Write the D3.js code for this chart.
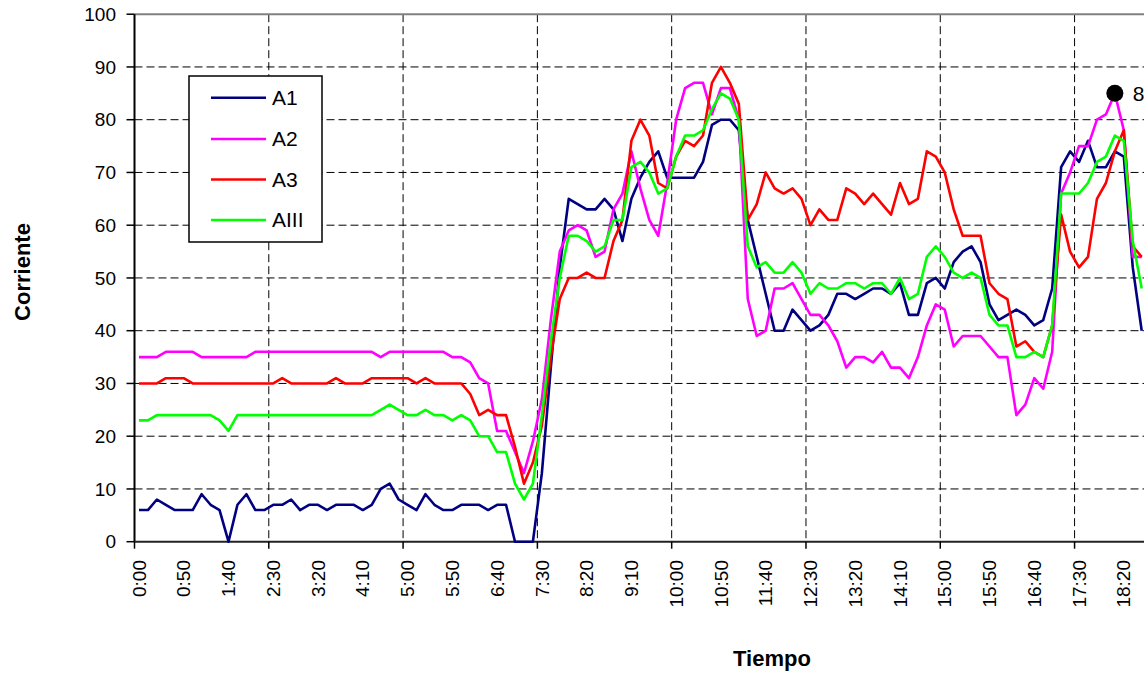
<!DOCTYPE html>
<html>
<head>
<meta charset="utf-8">
<script src="https://cdn.jsdelivr.net/npm/d3@7"></script>
<style>
  html, body { margin: 0; padding: 0; background: #fff; }
  svg { display: block; }
  text { font-family: "Liberation Sans", Arial, sans-serif; fill: #000; }
</style>
</head>
<body>
<svg id="chart" width="1144" height="677"></svg>
<script>
// ---- data (10-minute samples from 0:00) ----
const seriesNames = ["A1", "A2", "A3", "AIII"];
const seriesColors = ["#000080", "#FF00FF", "#FF0000", "#00FF00"];

const A1 = [6,6,8,7,6,6,6,9,7,6, 0,7,9,6,6,7,7,8,6,7, 7,6,7,7,7,6,7,10,11,8,
  7,6,9,7,6,6,7,7,7,6, 7,7,0,0,0,13,33,52,65,64, 63,63,65,63,57,65,69,72,74,69,
  69,69,69,72,79,80,80,78,61,54, 47,40,40,44,42,40,41,43,47,47, 46,47,48,48,47,49,43,43,49,50,
  48,53,55,56,53,45,42,43,44,43, 41,42,48,71,74,72,76,71,71,74, 73,52,40];
const A2 = [35,35,35,36,36,36,36,35,35,35, 35,35,35,36,36,36,36,36,36,36, 36,36,36,36,36,36,36,35,36,36,
  36,36,36,36,36,35,35,34,31,30, 21,21,17,13,19,27,42,55,59,60, 59,54,55,63,66,74,67,61,58,68,
  80,86,87,87,81,86,86,80,46,39, 40,48,48,49,46,43,43,41,38,33, 35,35,34,36,33,33,31,35,41,45,
  44,37,39,39,39,37,35,35,24,26, 31,29,36,66,70,75,75,80,81,85, 78,54,54];
const A3 = [30,30,30,31,31,31,30,30,30,30, 30,30,30,30,30,30,31,30,30,30, 30,30,31,30,30,30,31,31,31,31,
  31,30,31,30,30,30,30,28,24,25, 24,24,18,11,15,22,35,46,50,50, 51,50,50,57,61,76,80,77,68,67,
  73,76,75,77,87,90,87,83,61,64, 70,67,66,67,65,60,63,61,61,67, 66,64,66,64,62,68,64,65,74,73,
  70,63,58,58,58,49,47,46,37,38, 36,35,41,62,55,52,54,65,68,74, 78,56,54];
const AIII = [23,23,24,24,24,24,24,24,24,23, 21,24,24,24,24,24,24,24,24,24, 24,24,24,24,24,24,24,25,26,25,
  24,24,25,24,24,23,24,23,20,20, 17,17,11,8,11,24,38,50,58,58, 57,55,56,61,61,71,72,70,66,67,
  73,77,77,78,82,85,84,80,56,52, 53,51,51,53,51,47,49,48,48,49, 49,48,49,49,47,50,46,47,54,56,
  54,51,50,51,50,43,41,41,35,35, 36,35,41,66,66,66,68,72,73,77, 76,57,48];

const xTickLabels = ["0:00","0:50","1:40","2:30","3:20","4:10","5:00","5:50","6:40","7:30","8:20",
  "9:10","10:00","10:50","11:40","12:30","13:20","14:10","15:00","15:50","16:40","17:30","18:20"];
const yTicks = [0,10,20,30,40,50,60,70,80,90,100];
const markedPoint = { series: "A2", time: "18:10", value: 85 };

// categories: 10-minute steps
const categories = A1.map((_, i) => {
  const m = i * 10;
  return Math.floor(m / 60) + ":" + String(m % 60).padStart(2, "0");
});
const seriesData = [A1, A2, A3, AIII];

(function draw() {
  const svg = d3.select("#chart");
  const pL = 134.5, pB = 541.7, pT = 14.2;
  const step = 8.953;
  const pR = pL + categories.length * step;

  const x = d3.scaleBand().domain(categories).range([pL, pR]).paddingInner(0).paddingOuter(0);
  const cx = c => x(c) + x.bandwidth() / 2;
  const y = d3.scaleLinear().domain([0, 100]).range([pB, pT]);

  // horizontal gridlines
  svg.append("g").selectAll("line").data(yTicks.filter(v => v > 0 && v < 100)).join("line")
    .attr("x1", pL).attr("x2", 1144)
    .attr("y1", d => y(d)).attr("y2", d => y(d))
    .attr("stroke", "#000").attr("stroke-width", 1).attr("stroke-dasharray", "8,4");

  // vertical gridlines every 15 categories (boundaries)
  const vIdx = d3.range(15, categories.length, 15);
  svg.append("g").selectAll("line").data(vIdx).join("line")
    .attr("x1", i => x(categories[i])).attr("x2", i => x(categories[i]))
    .attr("y1", pT).attr("y2", pB)
    .attr("stroke", "#000").attr("stroke-width", 1).attr("stroke-dasharray", "8,4");

  // top border of plot area
  svg.append("line").attr("x1", pL).attr("x2", 1144).attr("y1", y(100)).attr("y2", y(100))
    .attr("stroke", "#808080").attr("stroke-width", 2);

  // y axis
  const yAxis = svg.append("g");
  yAxis.append("line").attr("x1", pL).attr("x2", pL).attr("y1", pT).attr("y2", pB)
    .attr("stroke", "#000").attr("stroke-width", 2);
  yAxis.selectAll("line.tick").data(yTicks).join("line").attr("class", "tick")
    .attr("x1", pL - 8).attr("x2", pL).attr("y1", d => y(d)).attr("y2", d => y(d))
    .attr("stroke", "#000").attr("stroke-width", 1.5);
  yAxis.selectAll("text").data(yTicks).join("text")
    .attr("x", 116).attr("y", d => y(d)).attr("dy", "0.35em")
    .attr("text-anchor", "end").attr("font-size", 19).text(d => d);

  // x axis
  const xAxis = svg.append("g");
  xAxis.append("line").attr("x1", pL).attr("x2", 1144).attr("y1", pB).attr("y2", pB)
    .attr("stroke", "#222").attr("stroke-width", 2);
  xAxis.selectAll("line.tick").data([0].concat(vIdx)).join("line").attr("class", "tick")
    .attr("x1", i => x(categories[i])).attr("x2", i => x(categories[i]))
    .attr("y1", pB).attr("y2", pB + 7)
    .attr("stroke", "#000").attr("stroke-width", 1.5);
  xAxis.selectAll("text").data(xTickLabels).join("text")
    .attr("transform", d => `translate(${cx(d)},560) rotate(-90)`)
    .attr("dy", "0.35em").attr("text-anchor", "end").attr("font-size", 19).text(d => d);

  // series lines
  const line = d3.line().x((d, i) => cx(categories[i])).y(d => y(d));
  svg.append("g").selectAll("path").data(seriesData).join("path")
    .attr("d", d => line(d))
    .attr("fill", "none")
    .attr("stroke", (d, i) => seriesColors[i])
    .attr("stroke-width", 2.6)
    .attr("stroke-linejoin", "round");

  // marked point (its label runs past the right edge, as in the original)
  const mx = cx(markedPoint.time), my = y(markedPoint.value);
  svg.append("circle").attr("cx", mx).attr("cy", my).attr("r", 8.5).attr("fill", "#000");
  svg.append("text").attr("x", mx + 18).attr("y", my).attr("dy", "0.35em")
    .attr("font-size", 21).text(markedPoint.value);

  // legend
  const lg = svg.append("g");
  lg.append("rect").attr("x", 189).attr("y", 76).attr("width", 133).attr("height", 166)
    .attr("fill", "#fff").attr("stroke", "#000").attr("stroke-width", 1.5);
  const rowY = [97.7, 139, 179.5, 220];
  seriesNames.forEach((n, i) => {
    lg.append("line").attr("x1", 211).attr("x2", 266).attr("y1", rowY[i]).attr("y2", rowY[i])
      .attr("stroke", seriesColors[i]).attr("stroke-width", 2.6);
    lg.append("text").attr("x", 272).attr("y", rowY[i]).attr("dy", "0.35em")
      .attr("font-size", 21).text(n);
  });

  // axis titles
  svg.append("text").attr("transform", "translate(30,272) rotate(-90)")
    .attr("text-anchor", "middle").attr("font-size", 22).attr("font-weight", "bold").text("Corriente");
  svg.append("text").attr("x", 772).attr("y", 666)
    .attr("text-anchor", "middle").attr("font-size", 22).attr("font-weight", "bold").text("Tiempo");
})();
</script>
</body>
</html>
